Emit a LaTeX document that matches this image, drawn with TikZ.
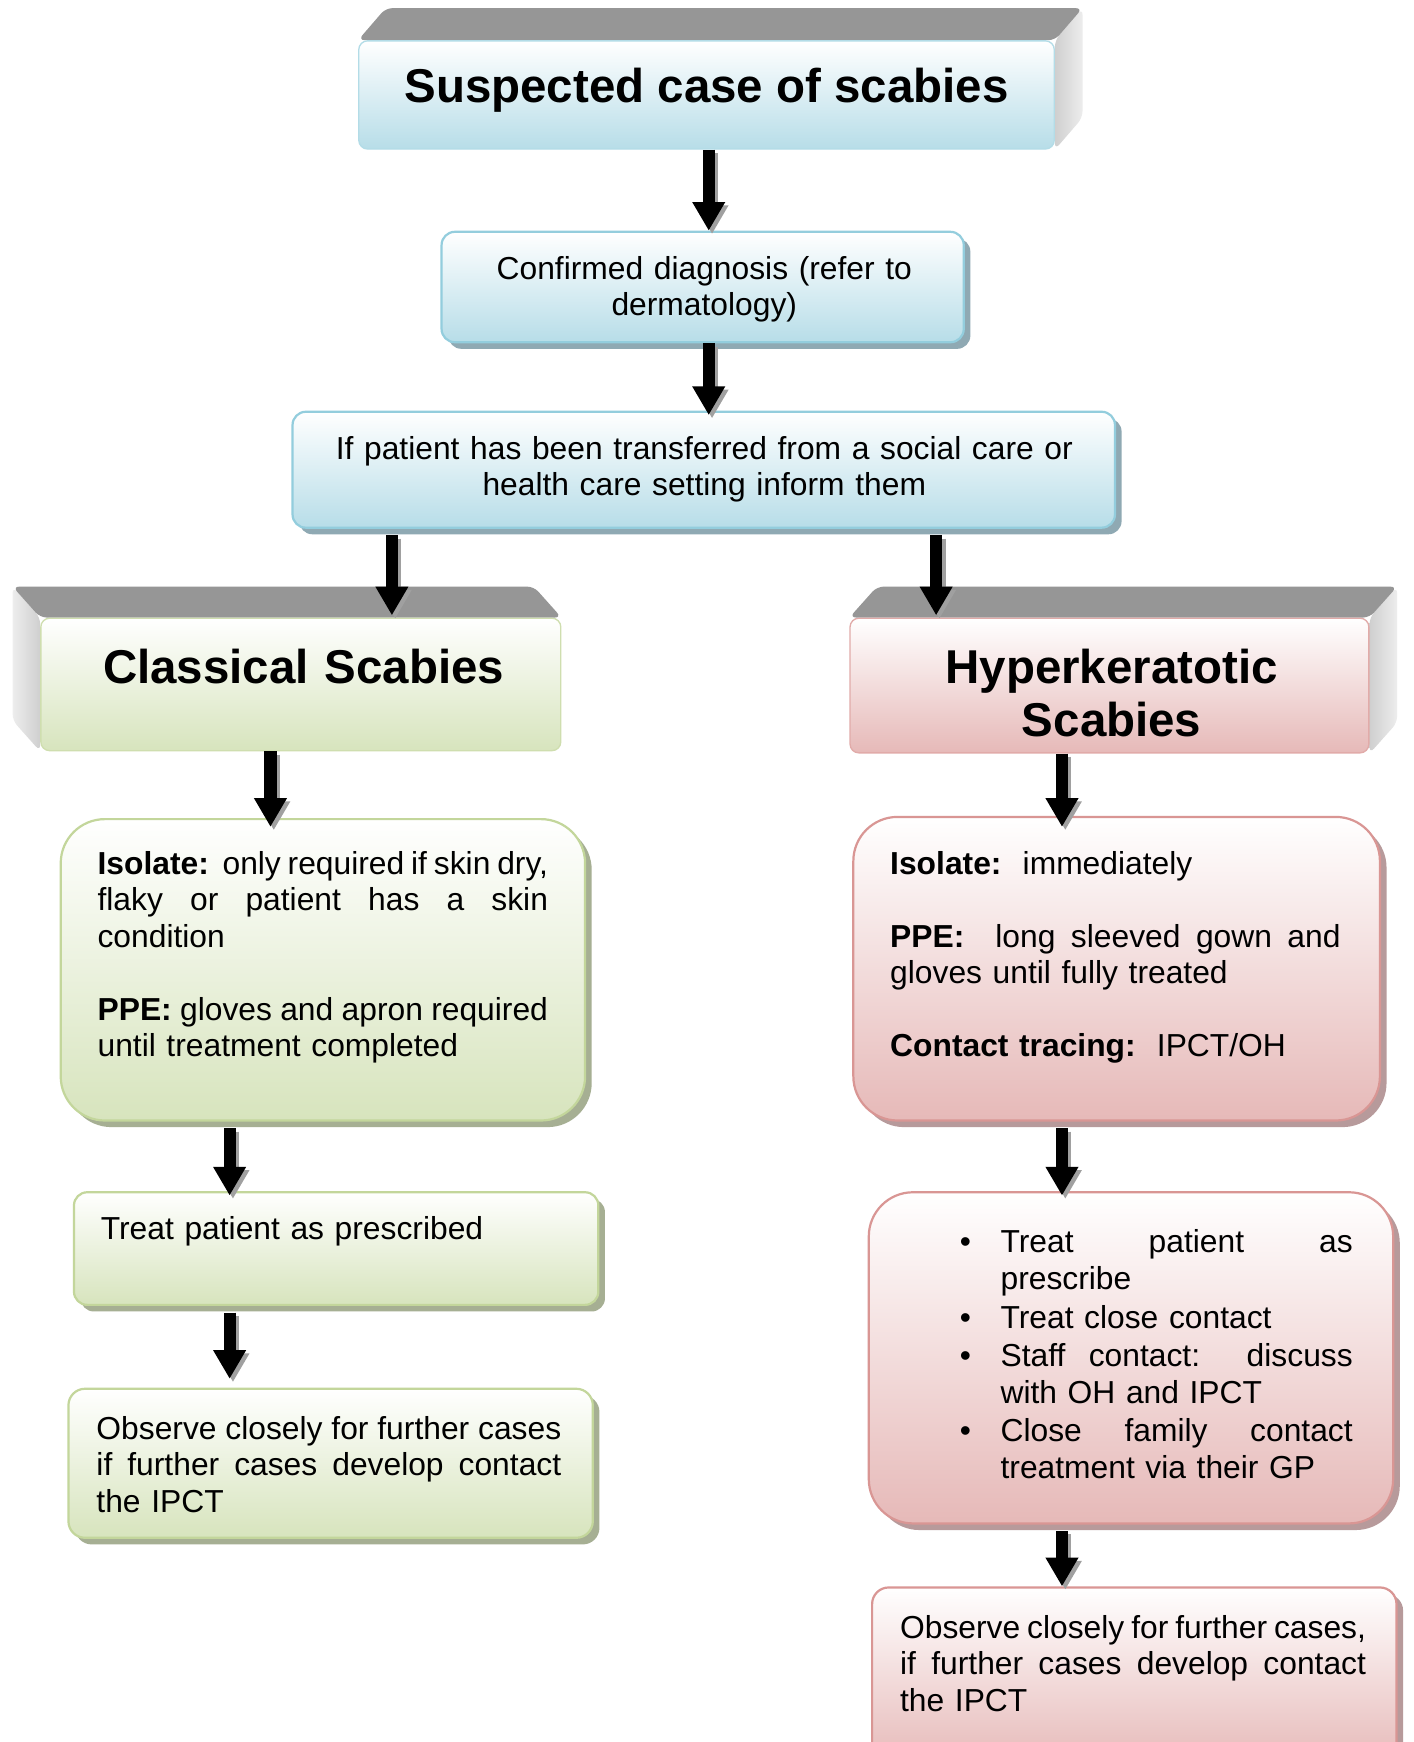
\documentclass[tikz,border=0pt]{standalone}
\usepackage{fontspec}
\setmainfont{Liberation Sans}
\usetikzlibrary{arrows.meta,shadows,backgrounds}
\definecolor{bfill}{HTML}{B7DDE8}
\definecolor{bborder}{HTML}{93CDDD}
\definecolor{bshadow}{HTML}{8FA9B3}
\definecolor{gfill}{HTML}{D7E4BD}
\definecolor{gborder}{HTML}{C3D69B}
\definecolor{gshadow}{HTML}{A6AF93}
\definecolor{pfill}{HTML}{E6B9B8}
\definecolor{pborder}{HTML}{D99694}
\definecolor{pshadow}{HTML}{B79A9B}
\definecolor{bevtopc}{HTML}{969696}
\definecolor{bevsidea}{HTML}{CFCFCF}
\definecolor{bevsideb}{HTML}{EDEDED}
\definecolor{arrshc}{HTML}{A0A0A0}
\newcommand\jsp{\frenchspacing\spaceskip=0.278em plus 1fil minus 0.1em\relax}
\newcommand\jl[1]{\leavevmode\hbox to\linewidth{\jsp #1}}
\newcommand\bul{\makebox[18.5pt][l]{\textbullet}}
\newcommand\bjl[1]{\leavevmode\bul\hbox to 159.5pt{\jsp #1}}
\newcommand\bpl[1]{\leavevmode\bul #1}
\newcommand\bcn[1]{\leavevmode\hspace*{18.5pt}#1}
\tikzset{
  bodyfont/.style={font=\fontsize{14.4}{16.5}\selectfont},
  titlefont/.style={font=\fontsize{21.5}{24}\selectfont\bfseries},
  boxbase/.style={line width=1pt, inner sep=0pt, shading=axis},
  bluebox/.style={boxbase, draw=bborder, top color=white, bottom color=bfill,
    drop shadow={shadow xshift=3pt, shadow yshift=-3pt, fill=bshadow, opacity=1}},
  greenbox/.style={boxbase, draw=gborder, top color=white, bottom color=gfill,
    drop shadow={shadow xshift=3pt, shadow yshift=-3pt, fill=gshadow, opacity=1}},
  pinkbox/.style={boxbase, draw=pborder, top color=white, bottom color=pfill,
    drop shadow={shadow xshift=3pt, shadow yshift=-3pt, fill=pshadow, opacity=1}},
  bluefront/.style={boxbase, line width=0.6pt, draw=bborder!70, top color=white, bottom color=bfill, rounded corners=4pt},
  greenfront/.style={boxbase, line width=0.6pt, draw=gborder!80, top color=white, bottom color=gfill, rounded corners=4pt},
  pinkfront/.style={boxbase, line width=0.6pt, draw=pborder!80, top color=white, bottom color=pfill, rounded corners=4pt},
  bevtop/.style={fill=bevtopc, rounded corners=3pt},
  bevside/.style={left color=bevsidea, right color=bevsideb, rounded corners=3pt},
  bevsidel/.style={left color=bevsideb, right color=bevsidea, rounded corners=3pt},
  txt/.style={inner sep=0pt, bodyfont, align=left, anchor=base west},
  ctxt/.style={inner sep=0pt, bodyfont, align=center, anchor=base},
  ttxt/.style={inner sep=0pt, titlefont, align=center, anchor=base},
  arr/.style={line width=5.5pt, black, -{Triangle[width=14pt,length=13pt]}},
  arrsh/.style={line width=5.5pt, arrshc, -{Triangle[width=14pt,length=13pt]}},
}
\newcommand\flowarr[2]{%
  \draw[arrsh, transform canvas={xshift=1.5pt,yshift=-1.5pt}] #1 -- #2;
  \draw[arr] #1 -- #2;}
\begin{document}
\begin{tikzpicture}[x=0.5pt, y=-0.5pt]
\useasboundingbox (0,0) rectangle (1280,1578);

% ---- column x positions for connectors
\coordinate (xc) at (642,0);
\coordinate (xl1) at (355,0);
\coordinate (xr1) at (848,0);
\coordinate (xl2) at (245,0);
\coordinate (xr2) at (962,0);
\coordinate (xl3) at (208,0);

% ---- beveled title boxes (front faces)
\node[bluefront, minimum width=315pt, minimum height=49pt] (top) at (640,86) {};
\node[greenfront, minimum width=235.5pt, minimum height=60pt] (cls) at (272.5,620) {};
\node[pinkfront, minimum width=235pt, minimum height=61pt] (hyp) at (1005,621) {};

\begin{scope}[on background layer]
  \fill[white] (0,0) rectangle (1280,1578);
  % top box: depth up-right
  \path[bevside] (top.north east) -- ([shift={(25,-29)}]top.north east)
     -- ([shift={(25,-29)}]top.south east) -- (top.south east) -- cycle;
  \path[bevtop] (top.north west) -- ([shift={(25,-29)}]top.north west)
     -- ([shift={(25,-29)}]top.north east) -- (top.north east) -- cycle;
  % classical: depth up-left
  \path[bevsidel] (cls.north west) -- ([shift={(-25,-28)}]cls.north west)
     -- ([shift={(-25,-28)}]cls.south west) -- (cls.south west) -- cycle;
  \path[bevtop] (cls.north west) -- ([shift={(-25,-28)}]cls.north west)
     -- ([shift={(-25,-28)}]cls.north east) -- (cls.north east) -- cycle;
  % hyperkeratotic: depth up-right
  \path[bevside] (hyp.north east) -- ([shift={(25,-28)}]hyp.north east)
     -- ([shift={(25,-28)}]hyp.south east) -- (hyp.south east) -- cycle;
  \path[bevtop] (hyp.north west) -- ([shift={(25,-28)}]hyp.north west)
     -- ([shift={(25,-28)}]hyp.north east) -- (hyp.north east) -- cycle;
\end{scope}

% ---- flat boxes
\node[bluebox, rounded corners=6pt, minimum width=236.5pt, minimum height=50pt] (diag) at (636.5,260) {};
\node[bluebox, rounded corners=6pt, minimum width=372.5pt, minimum height=52.5pt] (inform) at (637.5,425.5) {};
\node[greenbox, rounded corners=20pt, minimum width=237.5pt, minimum height=136.5pt] (liso) at (292.5,878.5) {};
\node[pinkbox, rounded corners=20pt, minimum width=238.5pt, minimum height=137.5pt] (riso) at (1011.5,877.5) {};
\node[greenbox, rounded corners=6pt, minimum width=237.5pt, minimum height=51pt] (ltreat) at (304.5,1131) {};
\node[pinkbox, rounded corners=20pt, minimum width=237.5pt, minimum height=150pt] (rtreat) at (1024.5,1230) {};
\node[greenbox, rounded corners=7.5pt, minimum width=237.5pt, minimum height=67.5pt] (lobs) at (299.5,1325.5) {};
\node[pinkbox, rounded corners=7.5pt, minimum width=237.5pt, minimum height=81pt] (robs) at (1027.5,1519) {};

% ---- texts
\node[ttxt] (ttop) at (640,93) {Suspected case of scabies};
\node[ttxt, text width=230pt] (tcls) at (275,619) {Classical Scabies};
\node[ttxt, text width=230pt] (thyp) at (1007,619) {Hyperkeratotic\\Scabies};
\node[ctxt, text width=236pt] (tdiag) at (638,253) {Confirmed diagnosis (refer to\\dermatology)};
\node[ctxt, text width=370pt] (tinform) at (638,416) {If patient has been transferred from a social care or\\health care setting inform them};
\node[txt, text width=204pt] (tliso) at (88,792) {%
\jl{\textbf{Isolate:}\ \ only required if skin dry,}\\
\jl{flaky or patient has a skin}\\
condition\\[16.5pt]
\jl{\textbf{PPE:} gloves and apron required}\\
until treatment completed};
\node[txt, text width=204pt] (triso) at (806,792) {%
\textbf{Isolate:}\ \ immediately\\[16.5pt]
\jl{\textbf{PPE:}\ \ long sleeved gown and}\\
gloves until fully treated\\[16.5pt]
\textbf{Contact tracing:}\ \ IPCT/OH};
\node[txt, text width=200pt] (tltreat) at (91,1123) {Treat patient as prescribed};
\node[txt, text width=178pt] (trtreat) at (869,1135) {%
\bjl{Treat patient as}\\
\bcn{prescribe}\\[1pt]
\bpl{Treat close contact}\\[1pt]
\bjl{Staff contact:\ \ discuss}\\
\bcn{with OH and IPCT}\\[1pt]
\bjl{Close family contact}\\
\bcn{treatment via their GP}};
\node[txt, text width=210.5pt] (tlobs) at (87,1304) {%
\jl{Observe closely for further cases}\\
\jl{if further cases develop contact}\\
the IPCT};
\node[txt, text width=211pt] (trobs) at (815,1484) {%
\jl{Observe closely for further cases,}\\
\jl{if further cases develop contact}\\
the IPCT};

% ---- connectors
\flowarr{(top.south -| xc)}{(diag.north -| xc)}
\flowarr{(diag.south -| xc)}{([yshift=-2pt]inform.north -| xc)}
\flowarr{([yshift=-3pt]inform.south -| xl1)}{([yshift=1pt]cls.north -| xl1)}
\flowarr{([yshift=-3pt]inform.south -| xr1)}{([yshift=1pt]hyp.north -| xr1)}
\flowarr{(cls.south -| xl2)}{([yshift=-4pt]liso.north -| xl2)}
\flowarr{(hyp.south -| xr2)}{([yshift=-5pt]riso.north -| xr2)}
\flowarr{([yshift=-3pt]liso.south -| xl3)}{([yshift=-2pt]ltreat.north -| xl3)}
\flowarr{([yshift=-3pt]riso.south -| xr2)}{([yshift=-2pt]rtreat.north -| xr2)}
\flowarr{([yshift=-3pt]ltreat.south -| xl3)}{([yshift=4pt]lobs.north -| xl3)}
\flowarr{([yshift=-3pt]rtreat.south -| xr2)}{(robs.north -| xr2)}
\end{tikzpicture}
\end{document}
